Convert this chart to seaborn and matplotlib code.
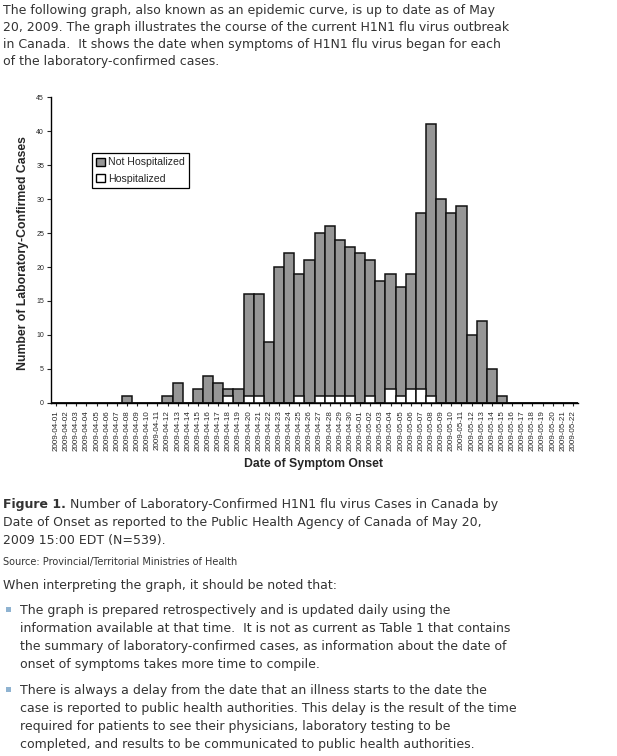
import pandas as pd
import matplotlib.pyplot as plt
import seaborn as sns
from matplotlib.patches import Patch, Rectangle

# dates of symptom onset, 2009-04-01 .. 2009-05-22
dates = pd.date_range('2009-04-01', '2009-05-22').strftime('%Y-%m-%d').tolist()

total_cases = [0, 0, 0, 0, 0, 0, 0, 1, 0, 0,
               0, 1, 3, 0, 2, 4, 3, 2, 2, 16,
               16, 9, 20, 22, 19, 21, 25, 26, 24, 23,
               22, 21, 18, 19, 17, 19, 28, 41, 30, 28,
               29, 10, 12, 5, 1, 0, 0, 0, 0, 0,
               0, 0]
hospitalized = [0, 0, 0, 0, 0, 0, 0, 0, 0, 0,
                0, 0, 0, 0, 0, 0, 0, 1, 0, 1,
                1, 0, 0, 0, 1, 0, 1, 1, 1, 1,
                0, 1, 0, 2, 1, 2, 2, 1, 0, 0,
                0, 0, 0, 0, 0, 0, 0, 0, 0, 0,
                0, 0]

df = pd.DataFrame({'date': dates, 'total': total_cases, 'hosp': hospitalized})

W, H = 617, 756
gray = '#969696'
txt_color = '#333333'

sns.set_style('white')
plt.rcParams['font.family'] = ['DejaVu Sans']

fig = plt.figure(figsize=(W / 100, H / 100), dpi=100)


def px(x, y):
    return x / W, 1 - y / H


# chart area
ax = fig.add_axes([51 / W, 1 - 403 / H, 527 / W, 306 / H])
sns.barplot(data=df, x='date', y='total', color=gray, edgecolor='#111111',
            linewidth=1.1, width=1.0, saturation=1, ax=ax)
sns.barplot(data=df, x='date', y='hosp', color='white', edgecolor='#111111',
            linewidth=1.1, width=1.0, saturation=1, ax=ax)

ax.set_xlim(-0.5, len(dates) - 0.5)
ax.set_ylim(0, 45)
ax.set_yticks(range(0, 46, 5))
ax.set_yticklabels([str(v) for v in range(0, 46, 5)], fontsize=5,
                   family='Liberation Sans')
ax.set_xticks(range(len(dates)))
ax.set_xticklabels(dates, rotation=90, fontsize=5.8, family='Liberation Sans')
ax.tick_params(axis='y', length=3, width=0.8, pad=2, left=True)
ax.tick_params(axis='x', length=2, width=0.8, pad=3, bottom=True)
for s in ['top', 'right']:
    ax.spines[s].set_visible(False)
for s in ['left', 'bottom']:
    ax.spines[s].set_color('black')
    ax.spines[s].set_linewidth(1)
ax.set_xlabel('')
ax.set_ylabel('')

fig.text(*px(23, 253), 'Number of Laboratory-Confirmed Cases', rotation=90,
         ha='center', va='center', fontsize=8.8, fontweight='bold',
         family='Liberation Sans')
fig.text(*px(314, 464), 'Date of Symptom Onset', ha='center', va='center',
         fontsize=8.8, fontweight='bold', family='Liberation Sans')

handles = [Patch(facecolor=gray, edgecolor='black', label='Not Hospitalized'),
           Patch(facecolor='white', edgecolor='black', label='Hospitalized')]
leg = ax.legend(handles=handles, loc='upper left',
                bbox_to_anchor=px(92, 153), bbox_transform=fig.transFigure,
                frameon=True, fancybox=False, edgecolor='black', framealpha=1,
                prop={'family': 'Liberation Sans', 'size': 7.6},
                handlelength=0.8, handleheight=0.8, handletextpad=0.3,
                borderpad=0.4, labelspacing=0.6, borderaxespad=0)
leg.get_frame().set_linewidth(0.9)

# page text
fs = 9.0
intro = ['The following graph, also known as an epidemic curve, is up to date as of May',
         '20, 2009. The graph illustrates the course of the current H1N1 flu virus outbreak',
         'in Canada.  It shows the date when symptoms of H1N1 flu virus began for each',
         'of the laboratory-confirmed cases.']
for i, line in enumerate(intro):
    fig.text(*px(3, 4 + 17 * i), line, va='top', ha='left', fontsize=fs,
             color=txt_color)

renderer = fig.canvas.get_renderer()
fig_lbl = fig.text(*px(3, 498), 'Figure 1.', va='top', ha='left', fontsize=fs,
                   fontweight='bold', color=txt_color)
bb = fig_lbl.get_window_extent(renderer=renderer)
fig.text((bb.x1 + 4) / W, 1 - 498 / H,
         'Number of Laboratory-Confirmed H1N1 flu virus Cases in Canada by',
         va='top', ha='left', fontsize=fs, color=txt_color)
caption = ['Date of Onset as reported to the Public Health Agency of Canada of May 20,',
           '2009 15:00 EDT (N=539).']
for i, line in enumerate(caption):
    fig.text(*px(3, 516 + 18 * i), line, va='top', ha='left', fontsize=fs,
             color=txt_color)

fig.text(*px(3, 557), 'Source: Provincial/Territorial Ministries of Health',
         va='top', ha='left', fontsize=7, color=txt_color)
fig.text(*px(3, 579), 'When interpreting the graph, it should be noted that:',
         va='top', ha='left', fontsize=fs, color=txt_color)

bullets = [['The graph is prepared retrospectively and is updated daily using the',
            'information available at that time.  It is not as current as Table 1 that contains',
            'the summary of laboratory-confirmed cases, as information about the date of',
            'onset of symptoms takes more time to compile.'],
           ['There is always a delay from the date that an illness starts to the date the',
            'case is reported to public health authorities. This delay is the result of the time',
            'required for patients to see their physicians, laboratory testing to be',
            'completed, and results to be communicated to public health authorities.']]
tops = [604, 684]
for top, lines in zip(tops, bullets):
    fig.patches.append(Rectangle(px(6, top + 8), 5 / W, 5 / H,
                                 transform=fig.transFigure,
                                 facecolor='#8fb3d1', edgecolor='none'))
    for i, line in enumerate(lines):
        fig.text(*px(20, top + 18 * i), line, va='top', ha='left',
                 fontsize=fs, color=txt_color)

fig.savefig('out.png', dpi=100)
